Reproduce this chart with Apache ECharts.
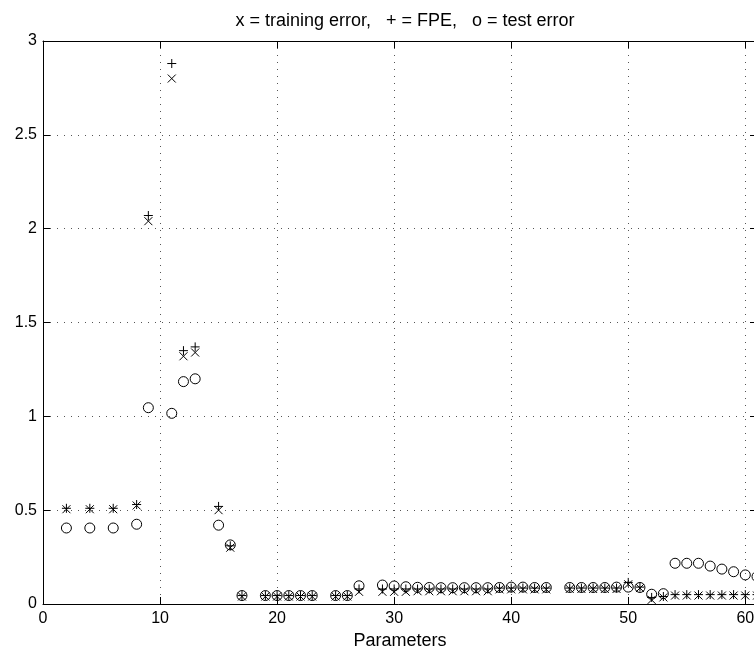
<!DOCTYPE html>
<html>
<head>
<meta charset="utf-8">
<script src="https://cdn.jsdelivr.net/npm/echarts@6/dist/echarts.min.js"></script>
<style>
  html, body { margin: 0; padding: 0; background: #fff; overflow: hidden; }
  #chart { width: 754px; height: 649px; }
</style>
</head>
<body>
<div id="chart"></div>
<script>
// Number of parameters (x values)
const params = [2, 4, 6, 8, 9, 11, 12, 13, 15, 16, 17, 19, 20, 21, 22, 23, 25, 26, 27,
  29, 30, 31, 32, 33, 34, 35, 36, 37, 38, 39, 40, 41, 42, 43,
  45, 46, 47, 48, 49, 50, 51, 52, 53, 54, 55, 56, 57, 58, 59, 60, 61];

// x = training error
const trainingError = [0.505, 0.505, 0.505, 0.525, 2.04, 2.80, 1.32, 1.34, 0.50, 0.30, 0.04, 0.04, 0.04, 0.04, 0.04, 0.04, 0.04, 0.04, 0.065,
  0.065, 0.065, 0.065, 0.068, 0.068, 0.068, 0.068, 0.068, 0.068, 0.068, 0.078, 0.078, 0.078, 0.078, 0.078,
  0.08, 0.08, 0.08, 0.08, 0.08, 0.105, 0.085, 0.022, 0.035, 0.045, 0.045, 0.045, 0.045, 0.045, 0.045, 0.045, 0.045];

// + = FPE
const fpe = [0.51, 0.51, 0.51, 0.53, 2.07, 2.88, 1.35, 1.37, 0.52, 0.31, 0.045, 0.045, 0.045, 0.045, 0.045, 0.045, 0.045, 0.045, 0.08,
  0.08, 0.08, 0.08, 0.08, 0.08, 0.08, 0.08, 0.08, 0.08, 0.08, 0.085, 0.085, 0.085, 0.085, 0.085,
  0.085, 0.085, 0.085, 0.085, 0.085, 0.115, 0.09, 0.035, 0.04, 0.05, 0.05, 0.05, 0.05, 0.05, 0.05, 0.05, 0.05];

// o = test error
const testError = [0.405, 0.405, 0.405, 0.425, 1.046, 1.016, 1.185, 1.20, 0.42, 0.315, 0.045, 0.045, 0.045, 0.045, 0.045, 0.045, 0.045, 0.045, 0.097,
  0.101, 0.096, 0.092, 0.089, 0.088, 0.087, 0.087, 0.087, 0.087, 0.087, 0.088, 0.09, 0.09, 0.088, 0.088,
  0.088, 0.088, 0.088, 0.088, 0.09, 0.09, 0.088, 0.052, 0.055, 0.217, 0.217, 0.217, 0.202, 0.186, 0.172, 0.155, 0.146];

const xTicks = [0, 10, 20, 30, 40, 50, 60];
const titleText = 'x = training error,   + = FPE,   o = test error';
const xName = 'Parameters';

const FONT = '"Liberation Sans", Arial, Helvetica, sans-serif';
const X_MAX = 61;

function pairs(ys) { return params.map((p, i) => [p, ys[i]]); }

const chart = echarts.init(document.getElementById('chart'), null, { renderer: 'canvas' });

const markerStyle = { color: 'transparent', borderColor: '#000', borderWidth: 1, opacity: 1 };
const gridDots = { show: true, lineStyle: { color: '#555', width: 1, type: [1, 6] } };

chart.setOption({
  animation: false,
  backgroundColor: '#fff',
  title: {
    text: titleText,
    left: 400,
    textAlign: 'center',
    top: 7,
    textStyle: { fontFamily: FONT, fontSize: 18, fontWeight: 'normal', color: '#000' }
  },
  grid: { left: 43, top: 41, bottom: 45, width: 714, containLabel: false, outerBoundsMode: 'none' },
  xAxis: [
    {
      type: 'value', min: 0, max: X_MAX, interval: 10, position: 'bottom',
      name: xName, nameLocation: 'middle', nameGap: 22,
      nameTextStyle: { fontFamily: FONT, fontSize: 18, color: '#000' },
      axisLine: { show: true, onZero: false, lineStyle: { color: '#000', width: 1 } },
      axisTick: { show: true, inside: true, length: 7, lineStyle: { color: '#000' } },
      axisLabel: {
        margin: 7, fontFamily: FONT, fontSize: 16, color: '#000',
        formatter: v => (xTicks.indexOf(v) >= 0 ? String(v) : '')
      },
      splitLine: gridDots
    },
    {
      type: 'value', min: 0, max: X_MAX, interval: 10, position: 'top',
      axisLine: { show: true, onZero: false, lineStyle: { color: '#000', width: 1 } },
      axisTick: { show: true, inside: true, length: 7, lineStyle: { color: '#000' } },
      axisLabel: { show: false },
      splitLine: { show: false }
    }
  ],
  yAxis: [
    {
      type: 'value', min: 0, max: 3, interval: 0.5, position: 'left',
      axisLine: { show: true, onZero: false, lineStyle: { color: '#000', width: 1 } },
      axisTick: { show: true, inside: true, length: 7, lineStyle: { color: '#000' } },
      axisLabel: { margin: 6, fontFamily: FONT, fontSize: 16, color: '#000' },
      splitLine: gridDots
    },
    {
      type: 'value', min: 0, max: 3, interval: 0.5, position: 'right',
      axisLine: { show: true, onZero: false, lineStyle: { color: '#000', width: 1 } },
      axisTick: { show: true, inside: true, length: 7, lineStyle: { color: '#000' } },
      axisLabel: { show: false },
      splitLine: { show: false }
    }
  ],
  series: [
    {
      name: 'training error', type: 'scatter', xAxisIndex: 0, yAxisIndex: 0, clip: false,
      symbol: 'path://M0,0L10,10M10,0L0,10', symbolSize: 8,
      itemStyle: markerStyle, data: pairs(trainingError)
    },
    {
      name: 'FPE', type: 'scatter', xAxisIndex: 0, yAxisIndex: 0, clip: false,
      symbol: 'path://M5,0L5,10M0,5L10,5', symbolSize: 9,
      itemStyle: markerStyle, data: pairs(fpe)
    },
    {
      name: 'test error', type: 'scatter', xAxisIndex: 0, yAxisIndex: 0, clip: false,
      symbol: 'circle', symbolSize: 10,
      itemStyle: markerStyle, data: pairs(testError)
    }
  ]
});
</script>
</body>
</html>
